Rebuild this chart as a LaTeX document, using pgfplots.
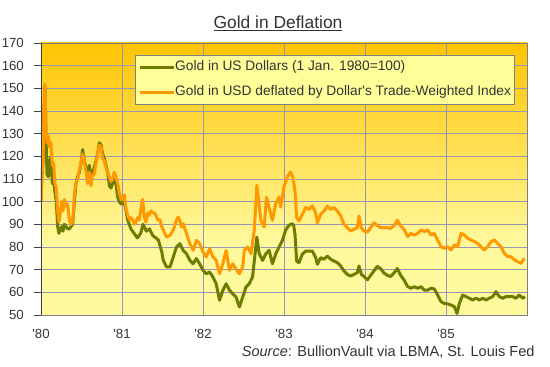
\documentclass[border=0pt]{standalone}
\usepackage{fontspec}
\setmainfont{Liberation Sans}
\usepackage{pgfplots}
\pgfplotsset{compat=1.18}
\definecolor{goldY}{RGB}{255,196,0}
\definecolor{paleY}{RGB}{255,249,158}
\definecolor{legY}{RGB}{255,255,153}
\definecolor{gridC}{RGB}{150,150,178}
\definecolor{oliveL}{RGB}{110,125,0}
\definecolor{orangeL}{RGB}{255,153,0}
\definecolor{txt}{RGB}{51,51,51}
\pgfdeclareverticalshading{goldbg}{100bp}{color(0bp)=(paleY); color(25bp)=(paleY); color(38bp)=(paleY); color(75bp)=(goldY); color(100bp)=(goldY)}
\begin{document}
\begin{tikzpicture}
\begin{axis}[
  at={(0,0)}, anchor=south west, scale only axis, width=486bp, height=272bp,
  xmin=1980, xmax=1986, ymin=50, ymax=170,
  xtick={1980,1981,1982,1983,1984,1985},
  xticklabels={\textquotesingle80,\textquotesingle81,\textquotesingle82,\textquotesingle83,\textquotesingle84,\textquotesingle85},
  ytick={50,60,...,170},
  grid=major, major grid style={draw=gridC, line width=0.8bp},
  axis line style={draw=gray},
  tick label style={font=\fontsize{13.3}{16}\selectfont, text=txt},
  /pgf/number format/assume math mode=true,
  xtick style={draw=none},
  ytick pos=left,
  tick align=outside, major tick length=7bp,
  ytick style={draw=darkgray, line width=0.8bp},
  xticklabel style={anchor=north, inner sep=0pt, yshift=-7bp},
  yticklabel style={anchor=east, inner sep=0pt, xshift=-10bp},
  axis background/.style={shading=goldbg},
  legend cell align=left,
  legend image code/.code={\draw[#1] (0bp,0bp) -- (34bp,0bp);},
  legend style={at={(rel axis cs:0.1934,0.9559)}, anchor=north west, draw=gray, fill=legY,
    font=\fontsize{13.8}{16}\selectfont, text=txt, inner xsep=3bp, inner ysep=5.5bp,
    row sep=12bp, nodes={inner sep=0pt, text height=10bp, text depth=3bp}},
]
\addplot[oliveL, line width=3bp, line join=round] coordinates {
(1980.000,100) (1980.012,112) (1980.025,118) (1980.037,140) (1980.049,151) (1980.062,128)
(1980.074,112) (1980.091,111) (1980.107,118) (1980.123,120) (1980.140,108) (1980.156,109)
(1980.173,104) (1980.189,100) (1980.206,89) (1980.222,86) (1980.239,88) (1980.255,89)
(1980.272,87) (1980.288,90) (1980.309,89) (1980.329,88) (1980.350,88) (1980.370,89)
(1980.391,90) (1980.412,100) (1980.432,108) (1980.453,111) (1980.473,113) (1980.494,117)
(1980.514,123) (1980.535,118) (1980.556,115) (1980.576,112) (1980.597,116) (1980.617,111)
(1980.638,113) (1980.658,115) (1980.679,118) (1980.700,121) (1980.720,126) (1980.741,125)
(1980.761,121) (1980.782,119) (1980.802,116) (1980.823,113) (1980.844,107) (1980.864,106)
(1980.885,108) (1980.905,110) (1980.926,108) (1980.947,102) (1980.967,100) (1980.988,99)
(1981.010,100) (1981.040,98) (1981.070,92) (1981.110,88) (1981.150,86) (1981.190,84)
(1981.230,86) (1981.260,90) (1981.300,87) (1981.340,88) (1981.380,85) (1981.420,84)
(1981.450,83) (1981.490,78) (1981.510,74.1) (1981.551,71.2) (1981.592,71.2) (1981.633,75.6)
(1981.673,80) (1981.714,81.5) (1981.755,78.5) (1981.796,77) (1981.837,74.1) (1981.878,72.6)
(1981.918,74.9) (1981.959,72.6) (1982.000,69.7) (1982.041,68.2) (1982.082,69) (1982.122,66.8)
(1982.163,63.8) (1982.204,56.5) (1982.245,60.9) (1982.286,63.8) (1982.327,60.9) (1982.367,59.4)
(1982.408,57.9) (1982.449,53.5) (1982.490,57.9) (1982.531,62.4) (1982.571,63.8) (1982.612,66.8)
(1982.665,84.4) (1982.694,77) (1982.735,74.1) (1982.776,77) (1982.816,78.5) (1982.857,72.6)
(1982.898,77) (1982.939,80) (1982.980,82.9) (1983.020,87.4) (1983.061,89.6) (1983.102,90.3)
(1983.120,89.5) (1983.136,85.6) (1983.156,73.8) (1983.185,73.1) (1983.226,76.8) (1983.267,78.2)
(1983.309,78.2) (1983.350,78.2) (1983.391,75.3) (1983.412,72.4) (1983.453,75.3) (1983.494,74.6)
(1983.535,76) (1983.576,74.6) (1983.617,73.8) (1983.658,73.1) (1983.700,71.6) (1983.741,69.4)
(1983.782,67.9) (1983.823,67.2) (1983.864,67.9) (1983.905,68.7) (1983.926,71.6) (1983.955,67.9)
(1983.988,67) (1984.029,65.5) (1984.070,67.5) (1984.111,69.5) (1984.152,71.5) (1984.193,70.5)
(1984.235,68.5) (1984.276,67.5) (1984.317,67) (1984.358,68.5) (1984.399,70.5) (1984.440,67.5)
(1984.481,65.5) (1984.527,62.5) (1984.568,61.8) (1984.609,62.5) (1984.650,61.8) (1984.691,62.5)
(1984.733,61) (1984.774,61) (1984.815,61.8) (1984.856,61.5) (1984.897,58.8) (1984.938,55.9)
(1984.979,55.1) (1985.021,54.9) (1985.062,54.4) (1985.103,53.7) (1985.136,50.7) (1985.165,55.1)
(1985.206,58.8) (1985.247,58.1) (1985.288,57.4) (1985.329,56.6) (1985.370,57.4) (1985.412,56.6)
(1985.453,57.4) (1985.494,56.6) (1985.535,57.4) (1985.576,58.1) (1985.617,60.3) (1985.658,58.1)
(1985.700,57.4) (1985.741,58.1) (1985.782,58.1) (1985.823,58.1) (1985.864,57.4) (1985.905,58.8)
(1985.947,57.4) (1985.975,58.1)
};
\addlegendentry{Gold in US Dollars (1 Jan. 1980=100)}
\addplot[orangeL, line width=3bp, line join=round] coordinates {
(1980.000,100) (1980.012,112) (1980.025,118) (1980.037,140) (1980.049,152) (1980.062,132)
(1980.074,126) (1980.091,129) (1980.107,124) (1980.123,126) (1980.140,116) (1980.156,117)
(1980.173,108) (1980.189,106) (1980.206,96) (1980.222,91) (1980.239,95) (1980.255,100)
(1980.272,96) (1980.288,101) (1980.309,98) (1980.329,99) (1980.350,92) (1980.370,90)
(1980.391,91) (1980.412,103) (1980.432,108) (1980.453,110) (1980.473,114) (1980.494,117)
(1980.514,121) (1980.535,118) (1980.556,113) (1980.576,108) (1980.597,113) (1980.617,107)
(1980.638,112) (1980.658,112) (1980.679,117) (1980.700,121) (1980.720,125) (1980.741,124)
(1980.761,119) (1980.782,118) (1980.802,115) (1980.823,113) (1980.844,111) (1980.864,109)
(1980.885,110) (1980.905,113) (1980.926,111) (1980.947,108) (1980.967,104) (1980.988,101)
(1981.008,101) (1981.029,103) (1981.049,97) (1981.070,94) (1981.091,92) (1981.111,93)
(1981.132,92) (1981.152,90) (1981.173,91) (1981.193,93) (1981.214,92) (1981.235,97)
(1981.255,101) (1981.276,93) (1981.296,91) (1981.317,95) (1981.337,94) (1981.358,96)
(1981.379,95) (1981.399,95) (1981.420,94) (1981.440,92) (1981.469,92) (1981.490,89)
(1981.510,87.4) (1981.551,84.4) (1981.592,85.1) (1981.633,87.4) (1981.673,91.8) (1981.694,93.2)
(1981.714,91.8) (1981.735,88.8) (1981.755,90.3) (1981.796,85.9) (1981.837,81.5) (1981.878,78.5)
(1981.918,82.9) (1981.959,81.5) (1982.000,77.8) (1982.041,75.6) (1982.082,79.3) (1982.122,75.6)
(1982.163,74.1) (1982.204,68.2) (1982.245,72.6) (1982.286,78.5) (1982.306,74.1) (1982.327,69.7)
(1982.367,72.6) (1982.408,70.4) (1982.449,68.2) (1982.490,71.2) (1982.510,78.5) (1982.551,80)
(1982.592,77) (1982.633,87.4) (1982.665,107.2) (1982.714,91.8) (1982.755,88.8) (1982.784,102)
(1982.824,96.2) (1982.857,91.8) (1982.898,99.1) (1982.939,102) (1982.959,97.6) (1983.000,106.5)
(1983.041,110.9) (1983.082,113.1) (1983.111,110.6) (1983.136,104.7) (1983.156,93) (1983.185,91.5)
(1983.226,94.4) (1983.267,97.4) (1983.309,96.6) (1983.350,98.1) (1983.391,95.1) (1983.412,90.7)
(1983.453,94.4) (1983.494,95.9) (1983.535,98.1) (1983.576,96.6) (1983.617,97.4) (1983.658,95.9)
(1983.700,93.7) (1983.741,90) (1983.782,88.5) (1983.823,87.1) (1983.864,87.8) (1983.905,88.5)
(1983.926,93.7) (1983.955,88.5) (1983.988,87.1) (1984.029,86.5) (1984.070,88.5) (1984.111,90.7)
(1984.152,89.5) (1984.193,88.5) (1984.235,88.5) (1984.276,88.5) (1984.317,88.2) (1984.358,89.5)
(1984.399,91.8) (1984.440,89.3) (1984.481,87.8) (1984.527,84.6) (1984.568,86) (1984.609,85.3)
(1984.650,86) (1984.691,87.5) (1984.733,86.8) (1984.774,87.5) (1984.815,85.3) (1984.856,86)
(1984.897,83.1) (1984.938,80.1) (1984.979,79.4) (1985.021,80.1) (1985.062,78.7) (1985.103,80.9)
(1985.144,80.1) (1985.185,86) (1985.226,85.3) (1985.267,83.8) (1985.309,83.1) (1985.350,82.4)
(1985.391,81.6) (1985.432,80.1) (1985.473,78.7) (1985.514,80.1) (1985.556,82.4) (1985.597,83.1)
(1985.638,81.6) (1985.679,80.1) (1985.720,77.2) (1985.761,75.7) (1985.802,75.7) (1985.844,74.3)
(1985.885,73.5) (1985.926,72.8) (1985.967,75)
};
\addlegendentry{Gold in USD deflated by Dollar\textquotesingle s Trade-Weighted Index}
\draw[darkgray, line width=0.8bp] (rel axis cs:0,1) -- (rel axis cs:0,0) -- (rel axis cs:1,0);
\end{axis}
\node[anchor=base, font=\fontsize{17.5}{20}\selectfont, text=txt] at (237bp,286bp) {\underline{Gold in Deflation}};
\node[anchor=base east, font=\fontsize{14.6}{17}\selectfont, text=txt] at (497bp,-41bp) {\textit{Source}: BullionVault via LBMA, St. Louis Fed};
\pgfresetboundingbox
\path[use as bounding box] (-41bp,-52bp) rectangle (509bp,315bp);
\end{tikzpicture}
\end{document}
